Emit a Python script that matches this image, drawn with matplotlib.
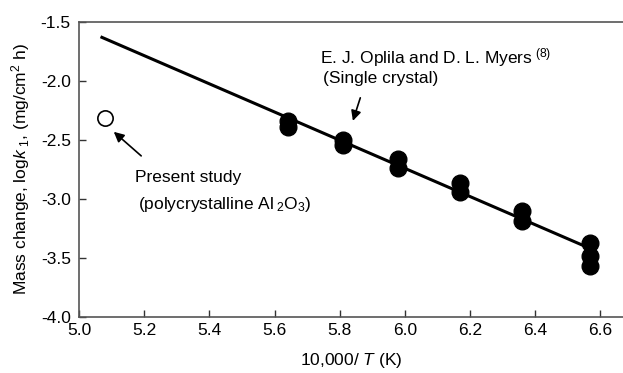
import matplotlib
matplotlib.use("Agg")
import matplotlib.pyplot as plt

plt.rcParams['font.family'] = ['Liberation Sans', 'DejaVu Sans']
plt.rcParams['mathtext.fontset'] = 'custom'
plt.rcParams['mathtext.rm'] = 'Liberation Sans'
plt.rcParams['mathtext.it'] = 'Liberation Sans:italic'
plt.rcParams['mathtext.bf'] = 'Liberation Sans:bold'

# single crystal data (Opila and Myers)
sc_x = [5.64, 5.64, 5.81, 5.81, 5.98, 5.98, 6.17, 6.17, 6.36, 6.36, 6.57, 6.57, 6.57]
sc_y = [-2.34, -2.39, -2.50, -2.54, -2.66, -2.74, -2.86, -2.94, -3.10, -3.19, -3.37, -3.48, -3.57]

# fitted line
fit_x = [5.07, 6.57]
fit_y = [-1.63, -3.42]

# present study
ps_x = [5.08]
ps_y = [-2.31]

FS = 12.5

fig = plt.figure(figsize=(6.23, 3.73), dpi=100)
ax = fig.add_axes([0.127, 0.150, 0.873, 0.791])

ax.plot(fit_x, fit_y, color='black', lw=2.2, zorder=2)
ax.plot(sc_x, sc_y, 'o', color='black', ms=12, zorder=3)
ax.plot(ps_x, ps_y, 'o', mfc='white', mec='black', mew=1.2, ms=11, zorder=3)

ax.set_xlim(5.0, 6.67)
ax.set_ylim(-4.0, -1.5)
ax.set_xticks([5.0, 5.2, 5.4, 5.6, 5.8, 6.0, 6.2, 6.4, 6.6])
ax.set_yticks([-4.0, -3.5, -3.0, -2.5, -2.0, -1.5])
ax.xaxis.set_major_formatter(matplotlib.ticker.FormatStrFormatter('%.1f'))
ax.yaxis.set_major_formatter(matplotlib.ticker.FormatStrFormatter('%.1f'))
ax.tick_params(direction='in', length=5, width=1, labelsize=FS, colors='#333333',
               labelcolor='black')
ax.tick_params(axis='x', pad=4)
ax.tick_params(axis='y', pad=6)
ax.spines['right'].set_visible(False)
for s in ['left', 'bottom', 'top']:
    ax.spines[s].set_color('#555555')
    ax.spines[s].set_linewidth(1.2)

ax.set_xlabel('10,000/ $T$ (K)', fontsize=FS, labelpad=10)
ax.set_ylabel('Mass change, log$k$$_{\\ 1}$, (mg/cm$^2$ h)', fontsize=FS, labelpad=6)

ax.text(5.74, -1.80, 'E. J. Oplila and D. L. Myers$^{\\ (8)}$', fontsize=FS, ha='left', va='center')
ax.text(5.927, -1.975, '(Single crystal)', fontsize=FS, ha='center', va='center')
ax.annotate('', xy=(5.838, -2.36), xytext=(5.866, -2.12),
            arrowprops=dict(arrowstyle='-|>', color='black', lw=1.2, mutation_scale=15))

ax.text(5.172, -2.82, 'Present study', fontsize=FS, ha='left', va='center')
ax.text(5.18, -3.05, '(polycrystalline Al$_{\\ 2}$O$_{3}$)', fontsize=FS, ha='left', va='center')
ax.annotate('', xy=(5.10, -2.415), xytext=(5.197, -2.65),
            arrowprops=dict(arrowstyle='-|>', color='black', lw=1.2, mutation_scale=15))

fig.savefig('out.png', dpi=100)
